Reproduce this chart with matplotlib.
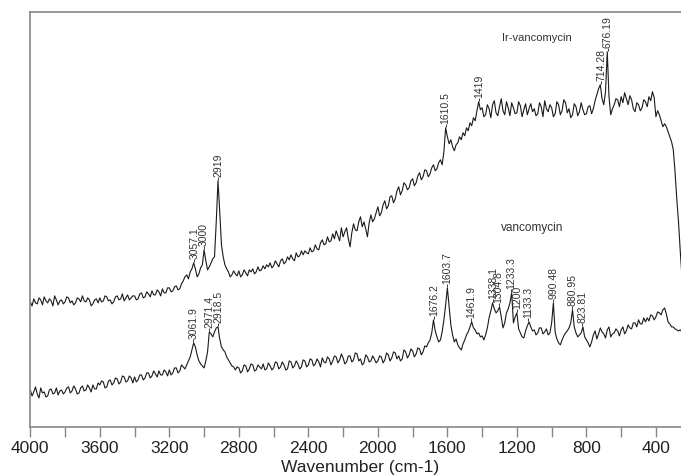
import numpy as np
import matplotlib
matplotlib.use("Agg")
import matplotlib.pyplot as plt
from matplotlib.ticker import MultipleLocator

plt.rcParams['font.family'] = ['Liberation Sans', 'DejaVu Sans']

# --- Data (arbitrary intensity units) ---
# wavenumber grid, 4000 -> 240 cm-1, every 10 cm-1
wavenumber = np.arange(4000, 239, -10)

ir_vanco = [
    125, 121, 128, 124, 123, 129, 127, 122, 130, 126, 124, 128, 126, 121, 131, 127, 122, 126, 127, 123,  # 4000-3810
    125, 130, 129, 124, 126, 122, 124, 129, 128, 125, 131, 126, 125, 129, 127, 121, 123, 127, 128, 124,  # 3800-3610
    129, 125, 126, 131, 130, 126, 127, 123, 125, 130, 131, 127, 128, 133, 126, 129, 132, 127, 129, 131,  # 3600-3410
    131, 127, 128, 133, 134, 129, 130, 135, 133, 130, 136, 132, 132, 137, 135, 131, 138, 134, 134, 139,  # 3400-3210
    139, 135, 136, 140, 141, 137, 138, 143, 146, 150, 152, 148, 155, 158, 164, 158, 150, 153, 159, 162,  # 3200-3010
    177, 166, 157, 160, 164, 168, 170, 205, 246, 215, 182, 170, 162, 158, 155, 150, 152, 156, 153, 151,  # 3000-2810
    156, 150, 152, 157, 154, 151, 157, 155, 158, 153, 155, 160, 156, 157, 161, 158, 162, 160, 164, 159,  # 2800-2610
    161, 166, 163, 160, 166, 168, 163, 165, 170, 167, 172, 168, 166, 174, 170, 171, 176, 172, 176, 174,  # 2600-2410
    173, 179, 175, 176, 182, 178, 177, 184, 187, 182, 183, 190, 185, 186, 193, 188, 196, 191, 186, 199,  # 2400-2210
    190, 195, 199, 188, 180, 194, 203, 197, 196, 205, 210, 200, 205, 198, 190, 204, 212, 205, 208, 214,  # 2200-2010
    220, 211, 214, 222, 226, 218, 221, 230, 231, 224, 228, 236, 240, 232, 236, 244, 242, 237, 239, 246,  # 2000-1810
    248, 241, 244, 251, 254, 247, 250, 257, 256, 250, 253, 259, 262, 256, 258, 264, 267, 262, 275, 299,  # 1800-1610
    290, 283, 287, 280, 276, 282, 284, 290, 287, 294, 291, 299, 296, 304, 301, 309, 306, 316, 325, 317,  # 1600-1410
    319, 310, 312, 322, 318, 309, 322, 326, 314, 311, 320, 328, 316, 312, 325, 319, 311, 324, 319, 313,  # 1400-1210
    314, 325, 321, 310, 317, 323, 312, 318, 323, 315, 318, 311, 313, 324, 320, 310, 326, 318, 315, 322,  # 1200-1010
    319, 310, 313, 325, 322, 312, 316, 327, 324, 314, 318, 309, 312, 323, 320, 311, 315, 324, 317, 312,  # 1000-810
    313, 320, 321, 313, 318, 326, 332, 338, 342, 328, 322, 335, 375, 330, 312, 318, 322, 328, 327, 320,  # 800-610
    330, 324, 334, 328, 322, 331, 327, 318, 315, 324, 322, 316, 319, 327, 325, 320, 330, 326, 335, 329,  # 600-410
    310, 316, 312, 306, 300, 303, 300, 295, 290, 285, 277, 255, 228, 205, 176, 150, 125,                # 400-240
]

vanco = [
    37, 31, 35, 40, 33, 29, 39, 34, 35, 30, 31, 37, 38, 33, 34, 39, 32, 36, 37, 33,            # 4000-3810
    35, 39, 40, 34, 36, 41, 38, 33, 34, 39, 41, 36, 37, 42, 39, 35, 42, 38, 38, 44,            # 3800-3610
    42, 46, 45, 39, 40, 46, 47, 42, 44, 49, 48, 43, 45, 51, 50, 45, 46, 51, 49, 44,            # 3600-3410
    50, 45, 47, 52, 52, 47, 49, 54, 54, 49, 51, 56, 53, 50, 56, 52, 52, 57, 55, 51,            # 3400-3210
    57, 52, 54, 59, 59, 54, 56, 62, 60, 58, 62, 66, 70, 77, 84, 80, 72, 66, 63, 61,            # 3200-3010
    59, 66, 75, 95, 93, 90, 95, 99, 100, 88, 80, 77, 75, 70, 67, 64, 61, 60, 57, 60,           # 3000-2810
    59, 54, 56, 62, 61, 55, 58, 63, 62, 56, 57, 62, 60, 58, 63, 57, 58, 64, 61, 57,            # 2800-2610
    59, 65, 64, 58, 60, 65, 62, 57, 58, 66, 65, 59, 61, 66, 63, 58, 60, 67, 66, 60,            # 2600-2410
    62, 68, 67, 61, 63, 68, 65, 60, 69, 65, 64, 70, 68, 62, 66, 71, 70, 64, 67, 73,            # 2400-2210
    69, 63, 65, 71, 71, 65, 67, 74, 73, 66, 68, 62, 64, 72, 70, 65, 66, 71, 68, 64,            # 2200-2010
    66, 71, 70, 64, 67, 74, 72, 66, 69, 75, 74, 68, 71, 66, 68, 77, 75, 69, 72, 78,            # 2000-1810
    76, 70, 73, 79, 78, 72, 75, 81, 80, 84, 87, 94, 107, 96, 90, 85, 87, 95, 107, 122,         # 1800-1610
    139, 120, 102, 92, 85, 88, 82, 79, 77, 83, 87, 92, 95, 100, 105, 99, 97, 93, 94, 90,       # 1600-1410
    91, 87, 92, 99, 109, 116, 124, 118, 114, 116, 120, 110, 99, 104, 114, 118, 124, 134, 104, 110,  # 1400-1210
    114, 98, 94, 90, 89, 96, 101, 105, 100, 96, 97, 92, 94, 99, 99, 93, 95, 98, 92, 94,        # 1200-1010
    104, 124, 95, 88, 84, 82, 87, 91, 94, 96, 99, 104, 117, 100, 94, 90, 92, 94, 100, 90,      # 1000-810
    87, 84, 80, 85, 92, 96, 88, 93, 99, 95, 93, 89, 97, 100, 90, 93, 94, 98, 96, 91,           # 800-610
    97, 100, 93, 96, 102, 99, 98, 104, 104, 100, 107, 103, 103, 109, 105, 109, 106, 112, 111, 107,  # 600-410
    110, 115, 114, 112, 117, 119, 113, 105, 103, 100, 100, 98, 97, 96, 97, 95, 96,             # 400-240
]

ir_peaks = [3057.1, 3000, 2919, 1610.5, 1419, 714.28, 676.19]
ir_peak_labels = ["3057.1", "3000", "2919", "1610.5", "1419", "714.28", "676.19"]
vanco_peaks = [3061.9, 2971.4, 2918.5, 1676.2, 1603.7, 1461.9, 1338.1,
               1304.8, 1233.3, 1200, 1133.3, 990.48, 880.95, 823.81]
vanco_peak_labels = ["3061.9", "2971.4", "2918.5", "1676.2", "1603.7", "1461.9", "1338.1",
                     "1304.8", "1233.3", "1200", "1133.3", "990.48", "880.95", "823.81"]

# --- Plot ---
fig = plt.figure(figsize=(6.81, 4.76), dpi=100)
# axes run a little past the right edge (spectrum cut off like the original)
ax = fig.add_axes([0.0445, 0.103, 0.9697, 0.8725])

line_color = "#1a1a1a"
ax.plot(wavenumber, ir_vanco, color=line_color, lw=0.8)
ax.plot(wavenumber, vanco, color=line_color, lw=0.8)


def label_peaks(values, peaks, labels):
    values = np.asarray(values)
    for wn, lab in zip(peaks, labels):
        near = np.abs(wavenumber - wn) <= 7
        top = values[near].max()
        ax.vlines(wn, top + 1, top + 4, color=line_color, lw=0.6)
        ax.text(wn, top + 4, lab, rotation=90, ha="center", va="bottom",
                fontsize=7.5, color="#333333")


label_peaks(ir_vanco, ir_peaks, ir_peak_labels)
label_peaks(vanco, vanco_peaks, vanco_peak_labels)

ax.text(1086, 389, "Ir-vancomycin", ha="center", va="center", fontsize=8, color="#333333")
ax.text(1114, 199, "vancomycin", ha="center", va="center", fontsize=8.5, color="#333333")

ax.set_xlim(4000, 200)
ax.set_ylim(0, 415)
ax.xaxis.set_major_locator(MultipleLocator(400))
ax.xaxis.set_minor_locator(MultipleLocator(200))
ax.set_yticks([])
ax.tick_params(axis="x", which="both", direction="out", length=7, width=1,
               color="#888888", labelsize=12.5, labelcolor="#222222", pad=3)
ax.set_xlabel("Wavenumber (cm-1)", fontsize=12.5, color="#222222", labelpad=3)

for side in ["left", "top", "bottom"]:
    ax.spines[side].set_color("#888888")
    ax.spines[side].set_linewidth(1.2)
ax.spines["right"].set_visible(False)

fig.savefig("out.png", dpi=100)
